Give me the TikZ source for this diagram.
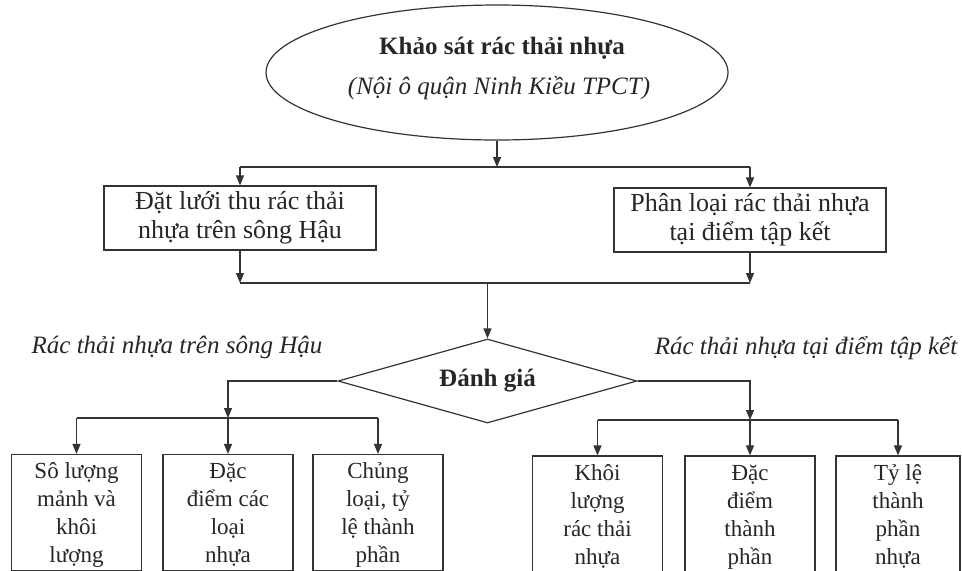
\documentclass[tikz,border=0pt]{standalone}
\usepackage{fontspec}
\setmainfont{Liberation Serif}
\usetikzlibrary{arrows.meta,shapes.geometric}
\newcommand{\leaftop}{\rule{0pt}{12pt}}
\newcommand{\leafbot}{\rule[-4pt]{0pt}{4pt}}
\begin{document}
\begin{tikzpicture}[x=0.5pt,y=-0.5pt,
  line width=0.6pt, draw=black!80, text=black!85,
  arr/.style={-{Triangle[length=5pt,width=4pt]}},
  topbox/.style={draw, rectangle, minimum width=136pt, minimum height=32pt, align=center, font=\fontsize{13}{14.5}\selectfont, inner sep=0pt},
  leaf/.style={draw, rectangle, minimum width=65pt, minimum height=55pt, align=center, font=\fontsize{11.5}{14}\selectfont, inner sep=0pt},
  leafr/.style={leaf, minimum height=54pt},
  lbl/.style={font=\fontsize{12.5}{15}\selectfont\itshape}
]
\useasboundingbox (0,0) rectangle (962,570);
% ellipse
\node[draw, ellipse, minimum width=231pt, minimum height=67.5pt, inner sep=0pt] (ell) at (497,72.5) {};
\node[font=\fontsize{12.5}{15}\selectfont\bfseries] (title) at (502,48) {Khảo sát rác thải nhựa};
\node[font=\fontsize{12.5}{15}\selectfont\itshape] (sub) at (499,88) {(Nội ô quận Ninh Kiều TPCT)};
% top boxes
\node[topbox] (b1) at (240,218) {Đặt lưới thu rác thải\\nhựa trên sông Hậu};
\node[topbox] (b2) at (750,220) {Phân loại rác thải nhựa\\tại điểm tập kết};
\coordinate (j1) at (497,167);
\draw[arr] (ell.south) -- (j1);
\draw (b1.north |- j1) -- (b2.north |- j1);
\draw[arr] (b1.north |- j1) -- (b1.north);
\draw[arr] (b2.north |- j1) -- (b2.north);
% merge
\coordinate (j2) at (487.5,283);
\draw[arr] (b1.south) -- (b1.south |- j2);
\draw[arr] (b2.south) -- (b2.south |- j2);
\draw (b1.south |- j2) -- (b2.south |- j2);
% diamond
\node[diamond, draw, minimum width=149.5pt, minimum height=42pt, aspect=3.5, inner sep=0pt,
  font=\fontsize{12.5}{15}\selectfont\bfseries] (dg) at (487.5,381) {Đánh giá};
\draw[arr] (j2) -- (dg.north);
% labels
\node[lbl] (lab1) at (177,347) {Rác thải nhựa trên sông Hậu};
\node[lbl] (lab2) at (806,348) {Rác thải nhựa tại điểm tập kết};
% left leaves
\node[leaf] (l1) at (76.5,512.5) {\leaftop Sô lượng\\mảnh và\\khôi\\lượng\leafbot};
\node[leaf] (l2) at (228,512.5) {\leaftop Đặc\\điểm các\\loại\\nhựa\leafbot};
\node[leaf] (l3) at (378,512.5) {\leaftop Chủng\\loại, tỷ\\lệ thành\\phần\leafbot};
\coordinate (jl) at (228,418);
\draw[arr] (dg.west) -| (jl);
\draw (l1.north |- jl) -- (l3.north |- jl);
\draw[arr] (l1.north |- jl) -- (l1.north);
\draw[arr] (jl) -- (l2.north);
\draw[arr] (l3.north |- jl) -- (l3.north);
% right leaves
\node[leafr] (r1) at (597.5,514) {\leaftop Khôi\\lượng\\rác thải\\nhựa\leafbot};
\node[leafr] (r2) at (750,514) {\leaftop Đặc\\điểm\\thành\\phần\leafbot};
\node[leafr, minimum width=62pt] (r3) at (898,514) {\leaftop Tỷ lệ\\thành\\phần\\nhựa\leafbot};
\coordinate (jr) at (750,420);
\draw[arr] (dg.east) -| (jr);
\draw (r1.north |- jr) -- (r3.north |- jr);
\draw[arr] (r1.north |- jr) -- (r1.north);
\draw[arr] (jr) -- (r2.north);
\draw[arr] (r3.north |- jr) -- (r3.north);
\end{tikzpicture}
\end{document}
